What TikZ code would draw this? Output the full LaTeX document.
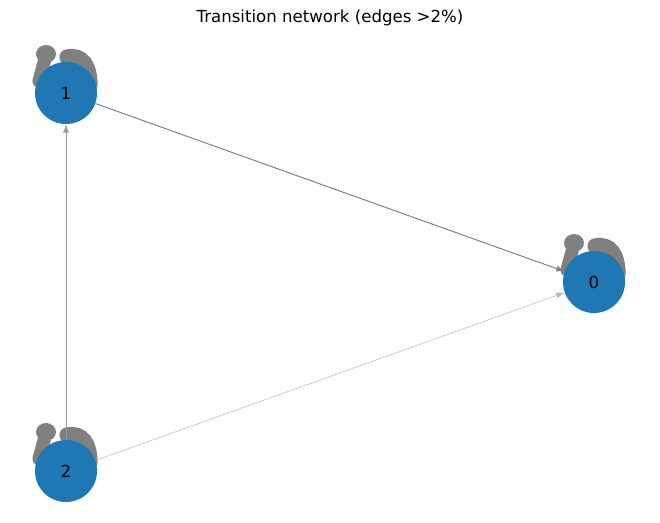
\documentclass[tikz,border=0pt]{standalone}
\usepackage{fontspec}
\setmainfont{DejaVu Sans}
\usetikzlibrary{arrows.meta}
\definecolor{nodeblue}{HTML}{1F77B4}
\def\selfloop(#1,#2){%
	\draw[loopline] (#1+1, #2-36) .. controls (#1+16, #2-39) and (#1+24, #2-28) .. (#1+24, #2-8);
	\draw[loopline, line width=9.5pt] (#1-20, #2-38) -- (#1-27, #2-12);
	\fill[gray] (#1-20, #2-39) ellipse (10 and 9);
}

\begin{document}
\begin{tikzpicture}[x=0.0254cm, y=-0.0254cm,
	state/.style={circle, fill=nodeblue, minimum size=1.575cm, inner sep=0pt, font=\fontsize{12}{14}\selectfont},
	loopline/.style={gray, line width=11pt, line cap=round},
	edge/.style={-{Latex[length=2.1mm, width=1.5mm]}, gray, line width=0.7pt}]
	%%%%% START %%%%%
	\useasboundingbox (0, 0) rectangle (660, 522);
	\node at (330, 18) {\fontsize{12}{14}\selectfont Transition network (edges >2\%)};
	
	\selfloop(66,93)
	\selfloop(594,282)
	\selfloop(66,471)
	
	\node[state] (n1) at (66, 93) {1};
	\node[state] (n0) at (594, 282) {0};
	\node[state] (n2) at (66, 471) {2};
	
	\draw[edge] (n1) -- (n0);
	\draw[edge, gray!55, line width=0.4pt] (n2) -- (n0);
	\draw[edge, gray!80, line width=0.55pt] (n2) -- (n1);
	%%%%% END %%%%%
\end{tikzpicture}
\end{document}
